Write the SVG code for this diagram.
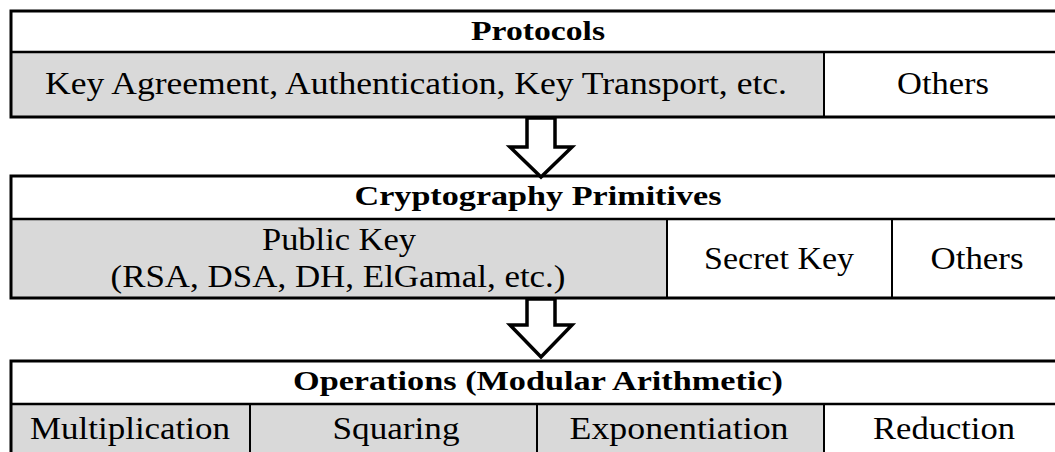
<svg xmlns="http://www.w3.org/2000/svg" width="1055" height="452" viewBox="0 0 1055 452">
<defs>
<style>
.t{font-family:"Liberation Serif","Times New Roman",serif;font-size:31px;fill:#000;text-anchor:middle}
.h{font-weight:bold;font-size:28px}
.g{fill:#d9d9d9;stroke:none}
.outer{fill:none;stroke:#000;stroke-width:3}
.ln{stroke:#000;stroke-width:2.5;fill:none}
.div{stroke:#000;stroke-width:2;fill:none}
.arrow{fill:#fff;stroke:#000;stroke-width:3.5;stroke-linejoin:miter}
</style>
</defs>
<rect width="1055" height="452" fill="#fff"/>
<g id="protocols">
<rect class="g" x="11" y="52" width="813" height="65"/>
<rect class="outer" x="11" y="11" width="1060" height="106"/>
<line class="ln" x1="11" y1="52" x2="1060" y2="52"/>
<line class="div" x1="824" y1="52" x2="824" y2="117"/>
<text class="t h" x="538" y="40" textLength="134" lengthAdjust="spacingAndGlyphs">Protocols</text>
<text class="t" x="416" y="94" textLength="742" lengthAdjust="spacingAndGlyphs">Key Agreement, Authentication, Key Transport, etc.</text>
<text class="t" x="943" y="94" textLength="92" lengthAdjust="spacingAndGlyphs">Others</text>
</g>
<g id="primitives">
<rect class="g" x="11" y="219" width="656" height="79"/>
<rect class="outer" x="11" y="176" width="1060" height="122"/>
<line class="ln" x1="11" y1="219" x2="1060" y2="219"/>
<line class="div" x1="667" y1="219" x2="667" y2="298"/>
<line class="div" x1="892" y1="219" x2="892" y2="298"/>
<text class="t h" x="538" y="205" textLength="367" lengthAdjust="spacingAndGlyphs">Cryptography Primitives</text>
<text class="t" x="339" y="250" textLength="154" lengthAdjust="spacingAndGlyphs">Public Key</text>
<text class="t" x="338" y="287" textLength="455" lengthAdjust="spacingAndGlyphs">(RSA, DSA, DH, ElGamal, etc.)</text>
<text class="t" x="779" y="269" textLength="150" lengthAdjust="spacingAndGlyphs">Secret Key</text>
<text class="t" x="977" y="269" textLength="93" lengthAdjust="spacingAndGlyphs">Others</text>
</g>
<g id="operations">
<rect class="g" x="11" y="404" width="813" height="60"/>
<rect class="outer" x="11" y="361" width="1060" height="120"/>
<line class="ln" x1="11" y1="404" x2="1060" y2="404"/>
<line class="div" x1="250" y1="404" x2="250" y2="460"/>
<line class="div" x1="537" y1="404" x2="537" y2="460"/>
<line class="div" x1="824" y1="404" x2="824" y2="460"/>
<text class="t h" x="538" y="390" textLength="490" lengthAdjust="spacingAndGlyphs">Operations (Modular Arithmetic)</text>
<text class="t" x="130" y="439" textLength="200" lengthAdjust="spacingAndGlyphs">Multiplication</text>
<text class="t" x="396" y="439" textLength="127" lengthAdjust="spacingAndGlyphs">Squaring</text>
<text class="t" x="679" y="439" textLength="219" lengthAdjust="spacingAndGlyphs">Exponentiation</text>
<text class="t" x="944" y="439" textLength="142" lengthAdjust="spacingAndGlyphs">Reduction</text>
</g>
<g id="connectors">
<polygon class="arrow" points="527,118 555,118 555,147 572,147 541,177 510,147 527,147"/>
<polygon class="arrow" points="527,299 555,299 555,325 572,325 541,357 510,325 527,325"/>
</g>
</svg>
